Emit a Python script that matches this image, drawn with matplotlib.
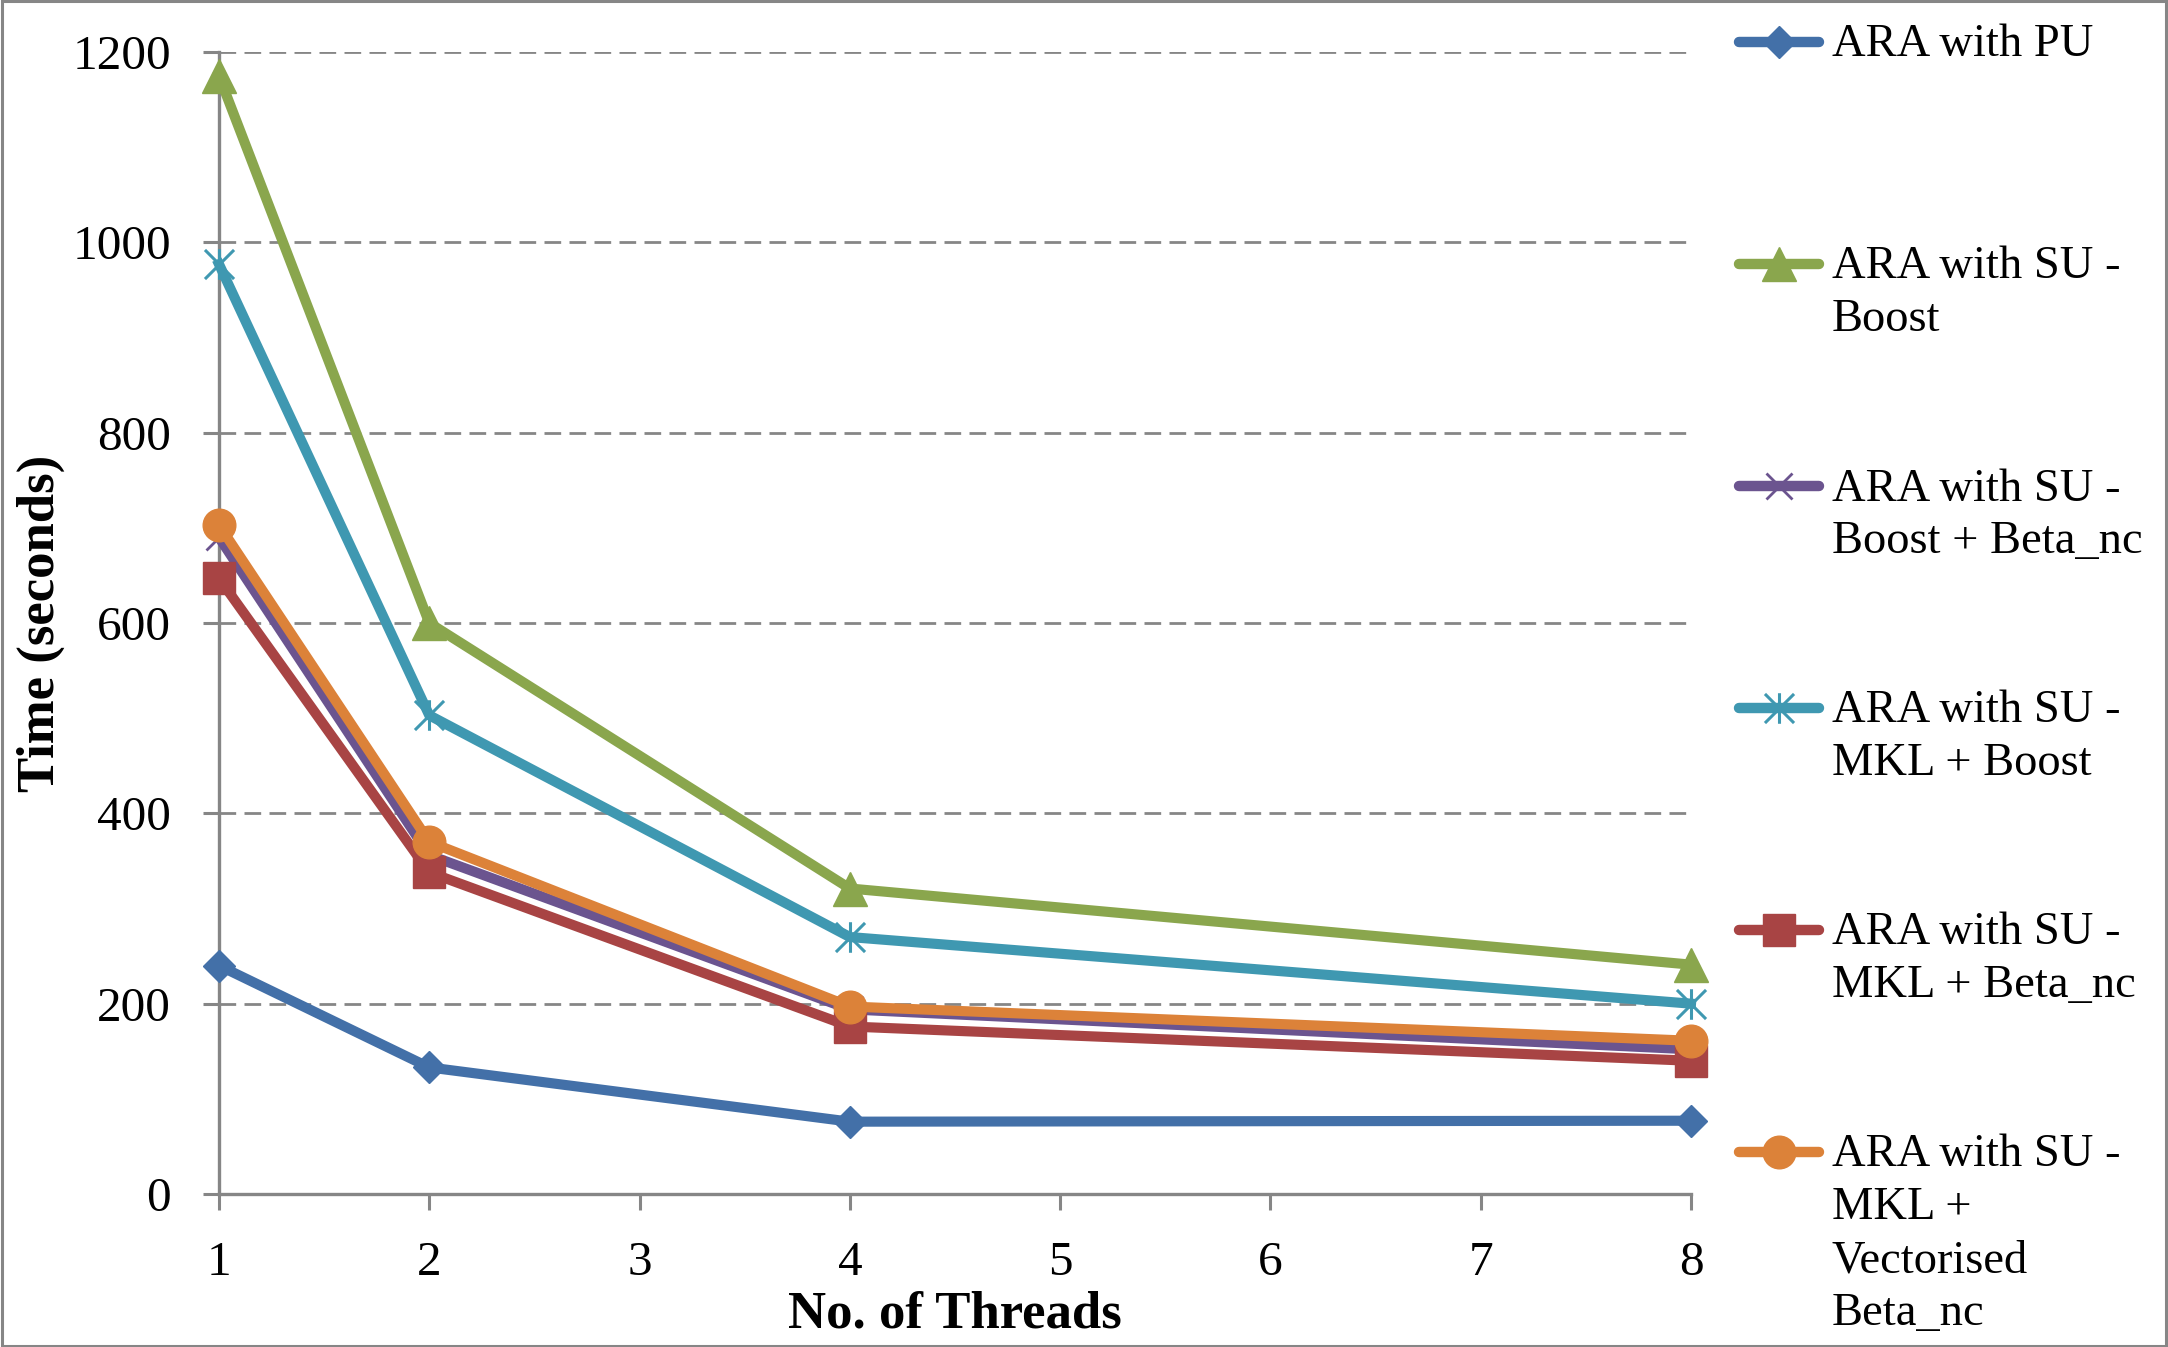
import matplotlib
matplotlib.use("Agg")
import matplotlib.pyplot as plt
from matplotlib.lines import Line2D
from matplotlib.path import Path
from matplotlib.patches import Rectangle

# data
threads = [1, 2, 4, 8]
pu = [240, 133, 76, 77]
su_boost = [1175, 600, 321, 241]
su_boost_beta = [690, 356, 194, 152]
su_mkl_boost = [977, 503, 270, 200]
su_mkl_beta = [647, 338, 176, 140]
su_mkl_vec = [703, 370, 197, 161]

labels = ["ARA with PU",
          "ARA with SU -\nBoost",
          "ARA with SU -\nBoost + Beta_nc",
          "ARA with SU -\nMKL + Boost",
          "ARA with SU -\nMKL + Beta_nc",
          "ARA with SU -\nMKL +\nVectorised\nBeta_nc"]
colors = ["#4370A8", "#8AA64D", "#6B548F", "#3F98B1", "#A84444", "#DC8239"]
x_ticks = [1, 2, 3, 4, 5, 6, 7, 8]
y_ticks = [0, 200, 400, 600, 800, 1000, 1200]

plt.rcParams['font.family'] = ['Liberation Serif', 'DejaVu Serif']

# excel style asterisk: an x with a vertical bar
star = Path([(-1, -1), (1, 1), (-1, 1), (1, -1), (0, -1.05), (0, 1.05)],
            [Path.MOVETO, Path.LINETO, Path.MOVETO, Path.LINETO, Path.MOVETO, Path.LINETO])

series = [pu, su_boost, su_boost_beta, su_mkl_boost, su_mkl_beta, su_mkl_vec]
styles = [dict(marker='D', ms=16),
          dict(marker='^', ms=24),
          dict(marker='x', ms=19, mew=2),
          dict(marker=star, ms=22, mew=2.2),
          dict(marker='s', ms=23),
          dict(marker='o', ms=23.5)]

W, H = 2168, 1347
fig = plt.figure(figsize=(W / 100, H / 100), dpi=100)
ax = fig.add_axes([219 / W, 1 - 1194 / H, (1691 - 219) / W, (1194 - 52) / H])

gray = '#868686'
for vals, col, st in zip(series, colors, styles):
    mfc = 'none' if st['marker'] in ('x',) or st['marker'] is star else col
    ax.plot(threads, vals, color=col, lw=7.3, mfc=mfc, mec=col,
            clip_on=False, zorder=3, **st)

ax.set_xlim(1, 8)
ax.set_ylim(0, 1200)
ax.set_xticks(x_ticks)
ax.set_yticks(y_ticks)
for s in ['top', 'right']:
    ax.spines[s].set_visible(False)
for s in ['left', 'bottom']:
    ax.spines[s].set_color(gray)
    ax.spines[s].set_linewidth(2.4)
ax.tick_params(axis='both', direction='out', length=11.5, width=2.2, color=gray,
               labelsize=35.5)
ax.tick_params(axis='y', pad=23)
ax.tick_params(axis='x', pad=22)
for yv in y_ticks[1:]:
    ax.axhline(yv, color=gray, lw=2, ls=(0, (6, 3)), zorder=1)

ax.set_xlabel("No. of Threads", fontsize=38, fontweight='bold', va='baseline')
ax.xaxis.set_label_coords(0.5, (1194 - 1327) / 1142)
ax.set_ylabel("Time (seconds)", fontsize=38, fontweight='bold', va='center')
ax.yaxis.set_label_coords((41 - 219) / 1472, 0.5)

# legend drawn by hand, one entry every 222 px
for i, (lab, col, st) in enumerate(zip(labels, colors, styles)):
    ypx = 42 + i * 222
    yf = 1 - ypx / H
    fig.add_artist(Line2D([1739 / W, 1819 / W], [yf, yf], color=col, lw=7.5,
                          solid_capstyle='round'))
    mfc = 'none' if st['marker'] in ('x',) or st['marker'] is star else col
    fig.add_artist(Line2D([1779 / W], [yf], color=col, lw=0, mfc=mfc, mec=col, **st))
    fig.text(1832 / W, 1 - (ypx - 18) / H, lab, fontsize=33.5, va='top',
             ha='left', linespacing=1.32)

fig.add_artist(Rectangle((0.001, 0.001), 0.998, 0.998, transform=fig.transFigure,
                         fill=False, edgecolor=gray, lw=2.2))

fig.savefig("out.png", dpi=100)
